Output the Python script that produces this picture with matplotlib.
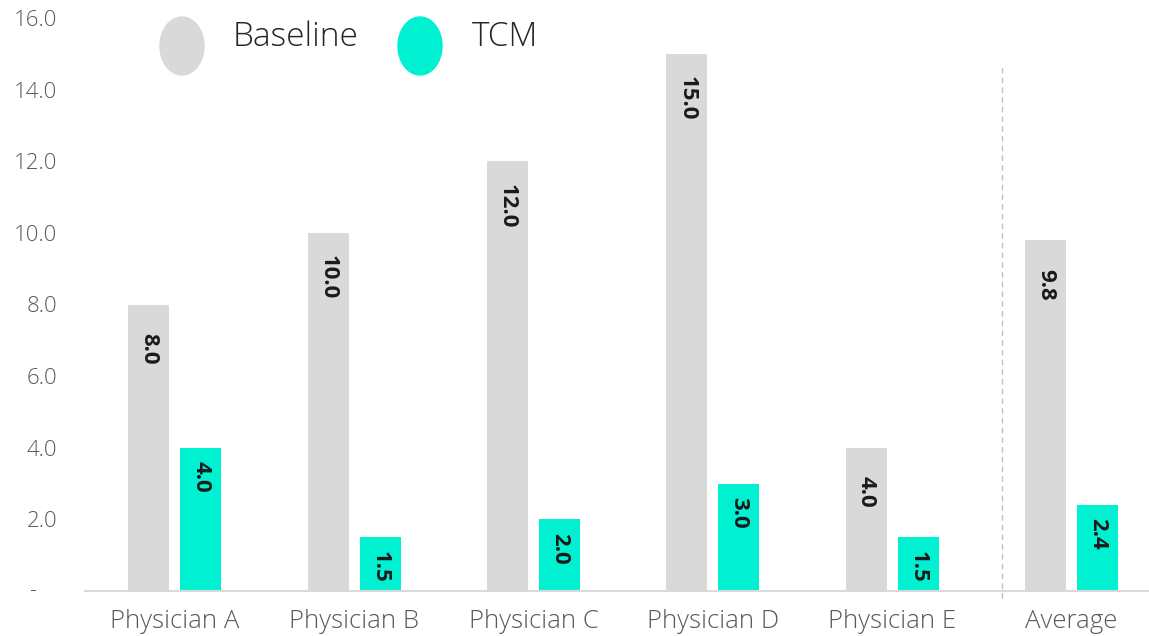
import matplotlib
matplotlib.use("Agg")
import matplotlib.pyplot as plt
from matplotlib.patches import Ellipse
import numpy as np

categories = ["Physician A", "Physician B", "Physician C", "Physician D", "Physician E", "Average"]
baseline = [8.0, 10.0, 12.0, 15.0, 4.0, 9.8]
tcm = [4.0, 1.5, 2.0, 3.0, 1.5, 2.4]
yticks = [0, 2, 4, 6, 8, 10, 12, 14, 16]
ytick_labels = ["", "2.0", "4.0", "6.0", "8.0", "10.0", "12.0", "14.0", "16.0"]
zero_label = "-"
series_names = ["Baseline", "TCM"]

GRAY = "#d9d9d9"
TEAL = "#00f0d2"
TXT = "#595959"

plt.rcParams['font.family'] = ['Open Sans', 'DejaVu Sans']
plt.rcParams['font.weight'] = 300

W, H = 1149, 636
fig = plt.figure(figsize=(W / 100, H / 100), dpi=100)
ax = fig.add_axes([85 / W, 45 / H, (W - 85) / W, (591 - 18) / H])

x = np.arange(len(categories))
bw = 0.228
off = 0.145
b1 = ax.bar(x - off, baseline, bw, color=GRAY, zorder=2)
b2 = ax.bar(x + off, tcm, bw, color=TEAL, zorder=2)

for bars, vals, dy in ((b1, baseline, -32), (b2, tcm, -21)):
    for r, v in zip(bars, vals):
        ax.annotate(f"{v:.1f}", (r.get_x() + r.get_width() / 2, v),
                    xytext=(0, dy), textcoords="offset points",
                    rotation=270, ha="center", va="center",
                    fontsize=16, fontweight="bold", color="#1a1a1a", zorder=3)

ax.set_xlim(-0.5, (W - 173.5) / 179.6)
ax.set_ylim(0, 16)
ax.set_yticks(yticks)
ax.set_yticklabels(ytick_labels)
ax.set_xticks(x)
ax.set_xticklabels(categories)
ax.tick_params(axis="y", length=0, pad=20, labelsize=16, labelcolor=TXT)
ax.tick_params(axis="x", length=0, pad=13, labelsize=18.5, labelcolor=TXT)
ax.annotate(zero_label, xy=(0, 0), xycoords=("axes fraction", "data"),
            xytext=(-51, 0), textcoords="offset pixels", ha="center", va="center",
            fontsize=16, color=TXT, annotation_clip=False)
for s in ("top", "right", "left"):
    ax.spines[s].set_visible(False)
ax.spines["bottom"].set_color(GRAY)
ax.spines["bottom"].set_linewidth(1.5)

# dashed separator
ax.plot([4.61, 4.61], [-0.2, 14.7], color="#bfbfbf", lw=1, ls=(0, (4, 3)), clip_on=False, zorder=1)

# legend
for cx, tx, col, name in ((182, 233, GRAY, series_names[0]), (420, 472, TEAL, series_names[1])):
    fig.patches.append(Ellipse((cx / W, 1 - 46 / H), 44 / W, 58 / H, color=col,
                               transform=fig.transFigure, figure=fig))
    fig.text(tx / W, 1 - 37 / H, name, fontsize=24, color="#262626", ha="left", va="center")

fig.savefig("out.png", dpi=100)
